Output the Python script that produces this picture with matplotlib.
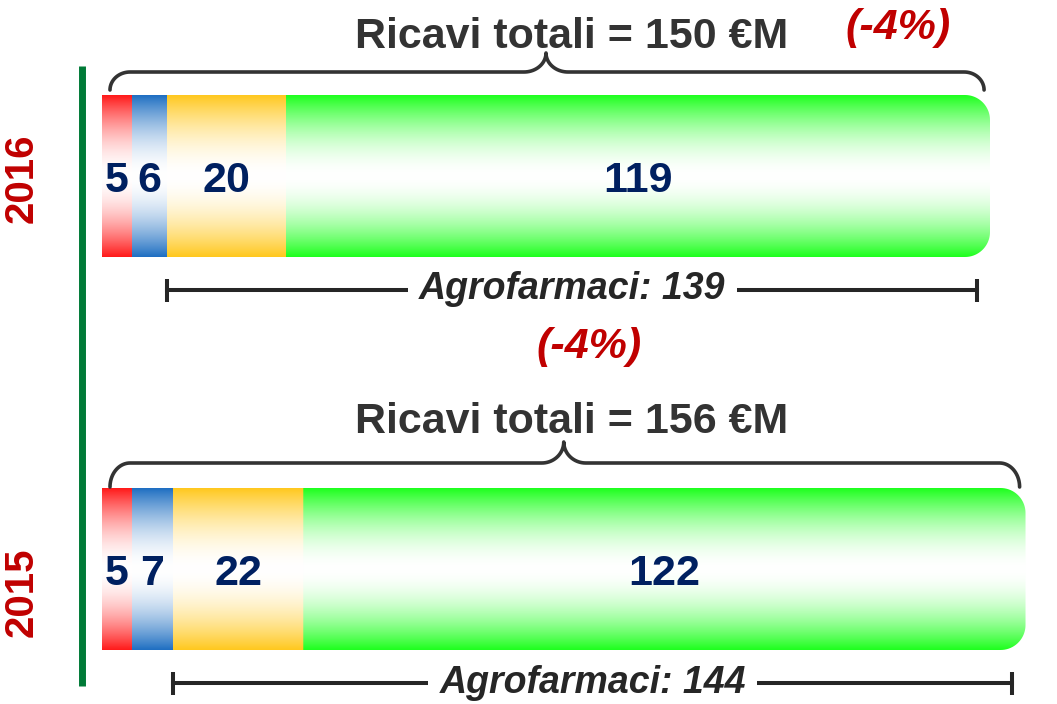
import numpy as np
import matplotlib.pyplot as plt
import matplotlib.colors as mcolors
from matplotlib.path import Path
from matplotlib.patches import PathPatch

# data (milioni di euro)
anni        = ["2016", "2015"]
rosso       = [5, 5]
blu         = [6, 7]
giallo      = [20, 22]
verde       = [119, 122]
totali      = [150, 156]
agrofarmaci = [139, 144]
variazione  = "(-4%)"

# basic config
PX_PER_UNIT = 5.92            # horizontal scale: pixels per €M
X0_PX = 102                   # where the bars start
W_PX, H_PX = 1057, 704
BAR_TOP = [95, 488]           # layout in pixels from top
BAR_H = 162
SEG_COLORS = ["#ff1a1a", "#1f6fc2", "#ffc81e", "#1eff1e"]
NUM_COLOR = "#002060"
RED_TXT = "#c00000"
DARK = "#333333"
FONT = "Liberation Sans"

plt.rcParams['font.family'] = [FONT, 'DejaVu Sans']

fig = plt.figure(figsize=(W_PX / 100, H_PX / 100), dpi=100)
ax = fig.add_axes([0, 0, 1, 1])
ax.axis('off')
ax.set_autoscale_on(False)
ax.set_xlim(-X0_PX / PX_PER_UNIT, (W_PX - X0_PX) / PX_PER_UNIT)
ax.set_ylim(H_PX, 0)


def gradient_fill(x0, x1, ytop, ybot, color, clip=None):
    rgb = np.array(mcolors.to_rgb(color))
    t = np.abs(np.linspace(-1, 1, 256))
    f = (t ** 1.8)[:, None]
    img = ((1 - f) * 1.0 + f * rgb).reshape(256, 1, 3)
    im = ax.imshow(img, extent=(x0, x1, ybot, ytop), aspect='auto',
                   interpolation='bilinear', zorder=2)
    if clip is not None:
        im.set_clip_path(clip)
    return im


def rounded_right(x0, x1, ytop, ybot, r_px=25):
    rx = r_px / PX_PER_UNIT
    ry = r_px
    th1 = np.linspace(np.pi / 2, 0, 20)
    th2 = np.linspace(0, -np.pi / 2, 20)
    cx = x1 - rx
    xs = [x0] + list(cx + rx * np.cos(th1)) + list(cx + rx * np.cos(th2)) + [x0, x0]
    ys = [ytop] + list(ytop + ry - ry * np.sin(th1)) + list(ybot - ry - ry * np.sin(th2)) + [ybot, ytop]
    return PathPatch(Path(np.column_stack([xs, ys])), transform=ax.transData,
                     facecolor='none', edgecolor='none')


def brace(xl, xr, xm, y_end, y_line, y_peak):
    rxe, rxp = 20 / PX_PER_UNIT, 22 / PX_PER_UNIT
    rye, ryp = y_end - y_line, y_line - y_peak
    a = np.linspace(np.pi, np.pi / 2, 20)
    b = np.linspace(-np.pi / 2, 0, 20)
    c = np.linspace(np.pi, 1.5 * np.pi, 20)
    d = np.linspace(np.pi / 2, 0, 20)
    xs = np.concatenate([xl + rxe + rxe * np.cos(a), xm - rxp + rxp * np.cos(b),
                         xm + rxp + rxp * np.cos(c), xr - rxe + rxe * np.cos(d)])
    ys = np.concatenate([y_end - rye * np.sin(a), y_peak - ryp * np.sin(b),
                         y_peak - ryp * np.sin(c), y_end - rye * np.sin(d)])
    ax.plot(xs, ys, color=DARK, lw=2.6, solid_capstyle='round', zorder=3)


# label positions (pixels from top)
TITLE_Y  = [48, 433]
BRACE_Y  = [(90, 72, 53), (487, 463, 442)]
DIM_Y    = [290, 683]
DIM_TXT_Y = [299, 693]
YEAR_Y   = [178, 592]
VAR_POS  = [(134.5, 39), (82.3, 358)]

for i, anno in enumerate(anni):
    ytop = BAR_TOP[i]
    ybot = ytop + BAR_H
    vals = [rosso[i], blu[i], giallo[i], verde[i]]
    left = 0.0
    for j, (v, col) in enumerate(zip(vals, SEG_COLORS)):
        right = left + v
        if j == len(vals) - 1:
            clip = rounded_right(left, right, ytop, ybot)
            gradient_fill(left, right, ytop, ybot, col, clip)
        else:
            gradient_fill(left, right, ytop, ybot, col)
        ax.text((left + right) / 2, ytop + BAR_H / 2 + 16, f"{v}",
                ha='center', va='baseline', fontsize=31, fontweight='bold',
                color=NUM_COLOR, zorder=4)
        left = right

    # brace + total
    ye, yl, yp = BRACE_Y[i]
    brace(1.35, totali[i] - 1.0, totali[i] / 2, ye, yl, yp)
    ax.text(79.4, TITLE_Y[i], f"Ricavi totali = {totali[i]} €M", ha='center',
            va='baseline', fontsize=31, fontweight='bold', color=DARK, zorder=4)

    # dimension line for agrofarmaci (giallo + verde)
    xa = rosso[i] + blu[i]
    xb = totali[i] - 2.2
    yd = DIM_Y[i]
    ax.plot([xa, xb], [yd, yd], color="#262626", lw=2.9, zorder=3)
    for xx in (xa, xb):
        ax.plot([xx, xx], [yd - 11.5, yd + 11.5], color="#262626", lw=2.9,
                solid_capstyle='butt', zorder=3)
    ax.text((xa + xb) / 2, DIM_TXT_Y[i], f"Agrofarmaci: {agrofarmaci[i]}",
            ha='center', va='baseline', fontsize=27, fontweight='bold',
            fontstyle='italic', color="#262626", zorder=4,
            bbox=dict(boxstyle='square,pad=0.3', fc='white', ec='none'))

    # year label
    ax.text(-80 / PX_PER_UNIT, YEAR_Y[i], anno, rotation=90, ha='center',
            va='center', fontsize=29, fontweight='bold', color=RED_TXT)

    # variation
    vx, vy = VAR_POS[i]
    ax.text(vx, vy, variazione, ha='center', va='baseline', fontsize=31,
            fontweight='bold', fontstyle='italic', color=RED_TXT)

# green separator
ax.plot([-19.5 / PX_PER_UNIT] * 2, [66, 686], color="#007a37", lw=5, solid_capstyle='butt')

fig.savefig("out.png", dpi=100)
